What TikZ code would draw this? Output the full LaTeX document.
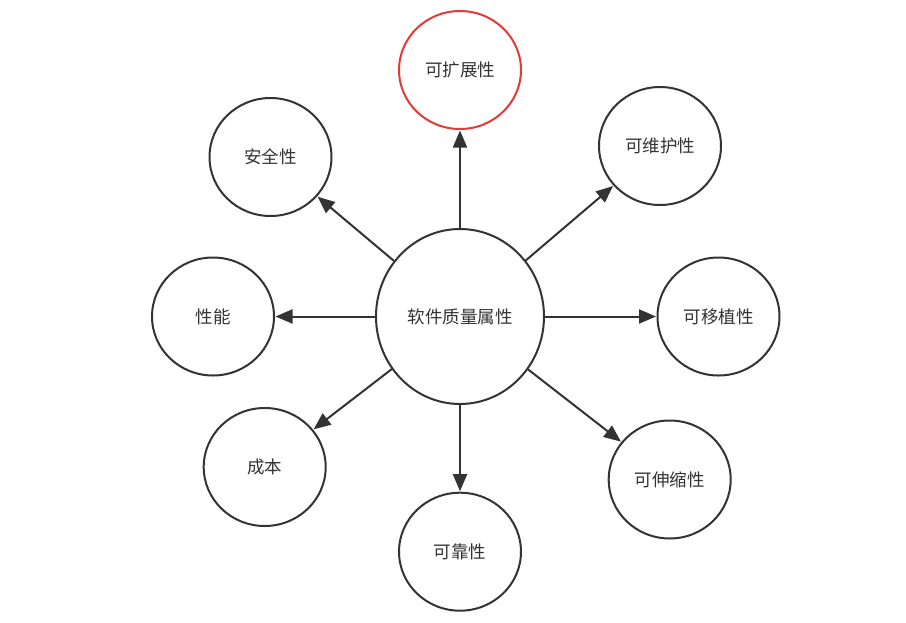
\documentclass[tikz,border=0pt]{standalone}
\usepackage{fontspec}
\newfontfamily\cjk{Noto Sans CJK SC}
\usetikzlibrary{shapes.geometric,arrows.meta}
\definecolor{ink}{HTML}{333333}
\definecolor{redline}{HTML}{E53935}
\tikzset{
  attr/.style={ellipse, draw=ink, line width=2pt, minimum width=122pt, minimum height=118pt, inner sep=0pt, font=\cjk\fontsize{17.5}{20}\selectfont, text=ink, fill=white},
  hub/.style={attr, minimum width=168pt, minimum height=175pt},
  hot/.style={attr, draw=redline},
  link/.style={draw=ink, line width=2pt, -{Triangle[length=17pt,width=14pt]}, shorten >=0.5pt}
}
\begin{document}
\begin{tikzpicture}[x=1pt,y=-1pt]
\useasboundingbox (0,0) rectangle (906,622);
\node[hub] (c) at (460,316.5) {软件质量属性};
\node[hot]  (ext)  at (460,70)      {可扩展性};
\node[attr] (sec)  at (270.5,157)   {安全性};
\node[attr] (mnt)  at (660,146)     {可维护性};
\node[attr] (perf) at (213,316.5)   {性能};
\node[attr] (port) at (718.5,316.5) {可移植性};
\node[attr] (cost) at (264.7,467)   {成本};
\node[attr] (rel)  at (460,551.7)   {可靠性};
\node[attr] (scl)  at (669.7,479.5) {可伸缩性};
\foreach \n in {ext,sec,mnt,perf,port,cost,rel,scl}
  \draw[link] (c) -- (\n);
\end{tikzpicture}
\end{document}
